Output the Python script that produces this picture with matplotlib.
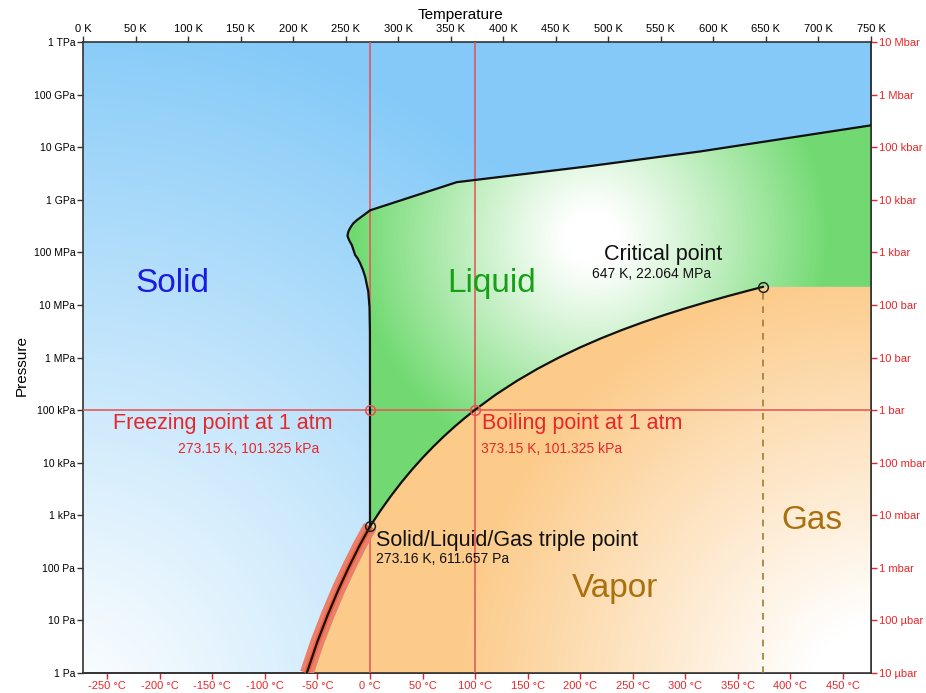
import numpy as np
import matplotlib
matplotlib.use('Agg')
import matplotlib.pyplot as plt
import matplotlib.colors as mcolors
from matplotlib.path import Path
from matplotlib.patches import PathPatch

plt.rcParams['font.family'] = ['Liberation Sans', 'DejaVu Sans']

# ice sublimation curve (K, Pa)
sub_T = [213.0, 223.0, 233.0, 243.0, 253.0, 263.0, 273.16]
sub_P = [1.0, 3.9, 12.8, 38.0, 103.0, 260.0, 611.657]

# liquid-vapour curve, triple point to critical point
vap_T = [273.16, 283.15, 293.15, 303.15, 313.15, 323.15, 333.15, 343.15,
         353.15, 363.15, 373.15, 393.15, 413.15, 433.15, 453.15, 473.15,
         493.15, 513.15, 533.15, 553.15, 573.15, 593.15, 613.15, 633.15,
         647.096]
vap_P = [611.657, 1228, 2339, 4247, 7384, 12352, 19946, 31201, 47414, 70182,
         101325, 198670, 361540, 618230, 1.0028e6, 1.5549e6, 2.3196e6,
         3.3469e6, 4.6923e6, 6.4166e6, 8.5879e6, 11.284e6, 14.601e6,
         18.666e6, 22.064e6]

# melting curve: ice Ih first, then the high-pressure ices
melt_T = [273.16, 273.15, 273.1, 272.7, 271.5, 268.6, 266.5, 263.8, 261.5,
          259.0, 255.9, 253.3, 251.7, 252.6, 254.9, 257.5, 260.7, 273.3,
          355.8, 480.0, 587.6, 750.0]
melt_P = [611.657, 101325, 3.0e6, 9.0e6, 1.8e7, 3.4e7, 4.6e7, 6.2e7, 7.6e7,
          8.9e7, 1.37e8, 1.7e8, 2.06e8, 2.5e8, 3.05e8, 3.6e8, 4.1e8, 6.3e8,
          2.16e9, 4.3e9, 8.3e9, 2.6e10]

triple = (273.16, 611.657)
critical = (647.096, 22.064e6)
freezing = (273.15, 101325)
boiling = (373.15, 101325)

t_min, t_max = 0, 750
p_min, p_max = 1.0, 1e12

k_ticks = np.arange(0, 751, 50)
c_ticks = np.arange(-250, 451, 50)
pa_ticks = 10.0 ** np.arange(0, 13)
pa_labels = ['1 Pa', '10 Pa', '100 Pa', '1 kPa', '10 kPa', '100 kPa', '1 MPa',
             '10 MPa', '100 MPa', '1 GPa', '10 GPa', '100 GPa', '1 TPa']
bar_ticks = 10.0 ** np.arange(-5, 8)
bar_labels = ['10 µbar', '100 µbar', '1 mbar', '10 mbar', '100 mbar', '1 bar',
              '10 bar', '100 bar', '1 kbar', '10 kbar', '100 kbar', '1 Mbar',
              '10 Mbar']

RED = '#e8262a'
LINE_RED = '#e85050'
INK = '#111111'

W, H = 926, 693
L, R, T, B = 83, 871, 42, 673

fig = plt.figure(figsize=(W / 100, H / 100), dpi=100)
ax = fig.add_axes([L / W, 1 - B / H, (R - L) / W, (B - T) / H])
ax.set_yscale('log')
ax.set_xlim(t_min, t_max)
ax.set_ylim(p_min, p_max)
ax.set_autoscale_on(False)


def gradient(c_in, c_out, center, r0, r1, gamma=1.0):
    # radial blend in figure pixels, c_in at the centre
    xs = np.arange(L, R) + 0.5
    ys = np.arange(T, B) + 0.5
    X, Y = np.meshgrid(xs, ys)
    d = np.hypot(X - center[0], Y - center[1])
    t = np.clip((d - r0) / (r1 - r0), 0, 1) ** gamma
    a = np.array(mcolors.to_rgb(c_in))
    b = np.array(mcolors.to_rgb(c_out))
    return a + (b - a) * t[..., None]


def paint(img, clip=None, z=0):
    im = ax.imshow(img, extent=(0, 1, 0, 1), transform=ax.transAxes,
                   origin='upper', aspect='auto', interpolation='bilinear',
                   zorder=z)
    if clip is not None:
        im.set_clip_path(clip)
    return im


# solid background
paint(gradient('#ffffff', '#84caf8', (60, 710), 0, 700, 1.1), z=0)

# liquid region
liq = (list(zip(melt_T, melt_P)) + [(t_max, critical[1])]
       + list(zip(vap_T[::-1], vap_P[::-1])))
liq_patch = PathPatch(Path(liq), transform=ax.transData)
paint(gradient('#ffffff', '#72da72', (592, 238), 25, 235, 1.1), liq_patch, z=1)

# vapour / gas region
gas = (list(zip(sub_T, sub_P)) + list(zip(vap_T[1:], vap_P[1:]))
       + [(t_max, critical[1]), (t_max, p_min), (sub_T[0], p_min)])
gas_patch = PathPatch(Path(gas), transform=ax.transData)
paint(gradient('#ffffff', '#fccb8a', (885, 700), 80, 430, 1.0), gas_patch, z=1)

ax.set_xlim(t_min, t_max)
ax.set_ylim(p_min, p_max)

# 1 atm reference lines
ax.axvline(freezing[0], color=LINE_RED, lw=1.1, zorder=3)
ax.axvline(boiling[0], color=LINE_RED, lw=1.1, zorder=3)
ax.axhline(freezing[1], color=LINE_RED, lw=1.1, zorder=3)

# sublimation band and phase boundaries
ax.plot(sub_T, sub_P, color='#e9806c', lw=10, solid_capstyle='butt', zorder=4)
ax.plot(sub_T, sub_P, color='#f5603a', lw=4, solid_capstyle='butt', zorder=4)
ax.plot(sub_T, sub_P, color=INK, lw=1.6, zorder=5)
ax.plot(vap_T, vap_P, color=INK, lw=1.6, zorder=5)
ax.plot(melt_T, melt_P, color=INK, lw=1.6, zorder=5)

# supercritical boundary
ax.plot([critical[0], critical[0]], [p_min, critical[1]], color='#a07a35',
        lw=1.2, ls=(0, (4, 4)), zorder=3)

for pt, col in [(freezing, LINE_RED), (boiling, LINE_RED),
                (triple, '#222222'), (critical, '#222222')]:
    ax.plot(*pt, 'o', ms=7, mfc='none', mec=col, mew=1.1, zorder=6)

# region names
ax.text(85, 2.6e7, 'Solid', color='#1a1ae0', fontsize=24, ha='center',
        va='center', zorder=7)
ax.text(389, 2.6e7, 'Liquid', color='#15a015', fontsize=24, ha='center',
        va='center', zorder=7)
ax.text(506, 41, 'Vapor', color='#a8700f', fontsize=24, ha='center',
        va='center', zorder=7)
ax.text(694, 810, 'Gas', color='#a8700f', fontsize=24, ha='center',
        va='center', zorder=7)

# point annotations
ax.text(496, 9.1e7, 'Critical point', fontsize=15.5, color=INK,
        va='center', zorder=7)
ax.text(484, 3.8e7, '647 K, 22.064 MPa', fontsize=10, color=INK,
        va='center', zorder=7)
ax.text(29, 5.6e4, 'Freezing point at 1 atm', fontsize=15.5, color=RED,
        va='center', zorder=7)
ax.text(90, 1.8e4, '273.15 K, 101.325 kPa', fontsize=10, color=RED,
        va='center', zorder=7)
ax.text(380, 5.6e4, 'Boiling point at 1 atm', fontsize=15.5, color=RED,
        va='center', zorder=7)
ax.text(379, 1.8e4, '373.15 K, 101.325 kPa', fontsize=10, color=RED,
        va='center', zorder=7)
ax.text(279, 324, 'Solid/Liquid/Gas triple point', fontsize=15.5,
        color=INK, va='center', zorder=7)
ax.text(279, 147, '273.16 K, 611.657 Pa', fontsize=10, color=INK,
        va='center', zorder=7)

# axes: kelvin on top, pascal on the left
ax.xaxis.tick_top()
ax.set_xticks(k_ticks, [f'{k} K' for k in k_ticks])
ax.set_yticks(pa_ticks, pa_labels)
ax.yaxis.set_minor_locator(matplotlib.ticker.NullLocator())
ax.tick_params(axis='both', labelsize=7.5, length=4, width=1, color='#333333',
               pad=1.5)
ax.tick_params(axis='x', labelsize=8)
for s in ax.spines.values():
    s.set_color('#333333')
    s.set_linewidth(1.2)

# celsius below, bar on the right
cax = ax.secondary_xaxis('bottom', functions=(lambda k: k - 273.15,
                                              lambda c: c + 273.15))
cax.set_xticks(c_ticks, [f'{c} °C' for c in c_ticks])
cax.tick_params(labelsize=8, length=4, width=1, colors=RED, pad=1.5)
cax.spines['bottom'].set_color('#333333')
cax.spines['bottom'].set_linewidth(1.2)

bax = ax.secondary_yaxis('right', functions=(lambda p: p / 1e5,
                                             lambda b: b * 1e5))
bax.set_yticks(bar_ticks, bar_labels)
bax.yaxis.set_minor_locator(matplotlib.ticker.NullLocator())
bax.tick_params(labelsize=8, length=4, width=1, colors=RED, pad=1.5)
bax.spines['right'].set_color('#333333')
bax.spines['right'].set_linewidth(1.2)

fig.text(461 / W, 1 - 15 / H, 'Temperature', fontsize=11, ha='center',
         va='center')
fig.text(22 / W, 1 - 366 / H, 'Pressure', fontsize=11, rotation=90,
         ha='center', va='center')

fig.savefig('out.png', dpi=100)
